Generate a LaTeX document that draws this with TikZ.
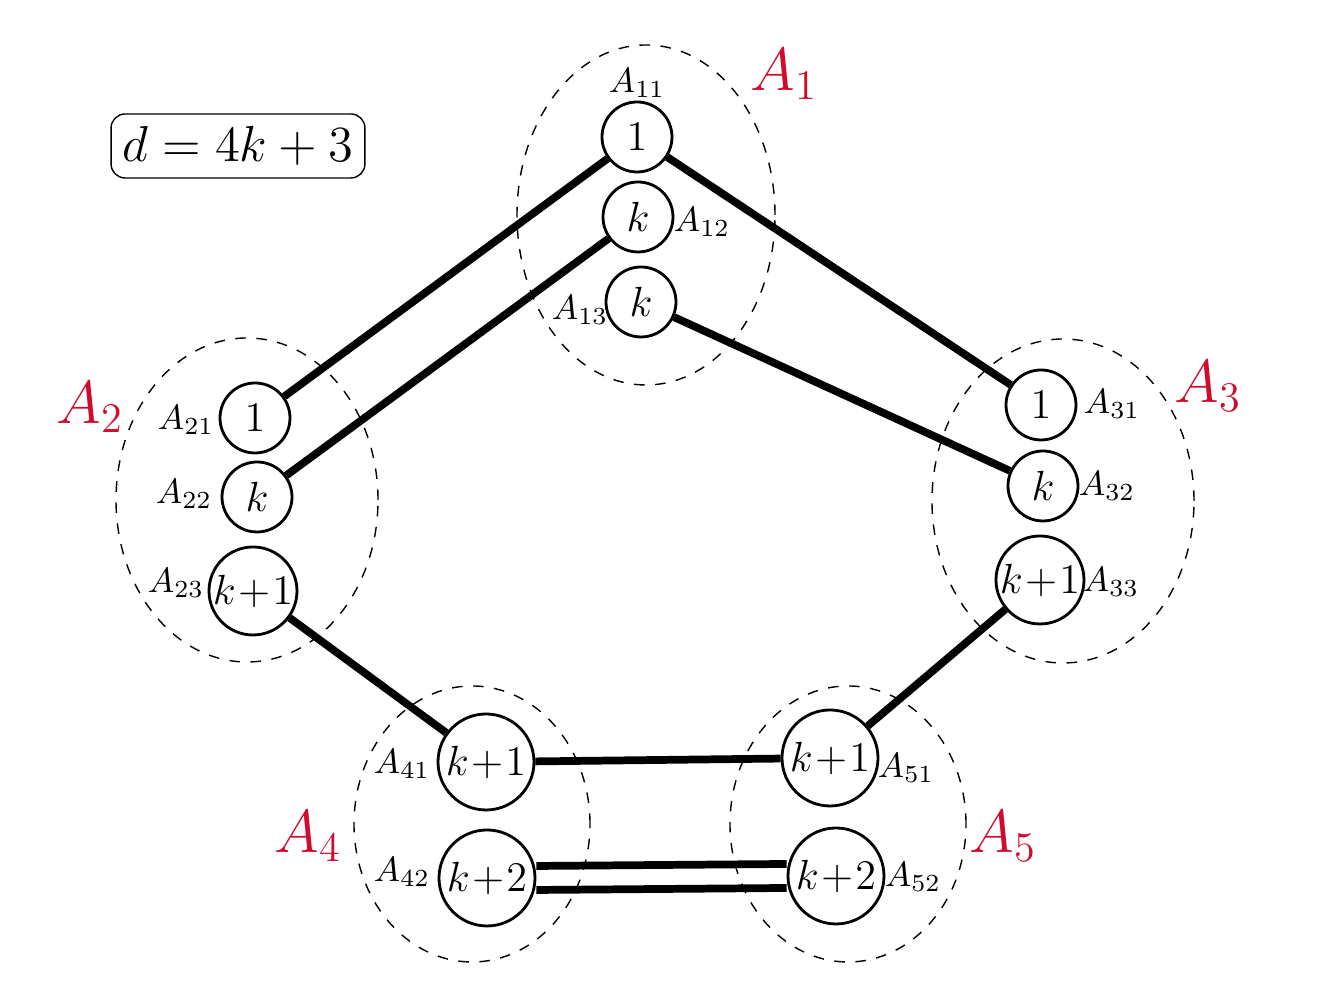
\documentclass[tikz,border=0pt]{standalone}
\usepackage{amsmath}
\usepackage{tikz}
\usetikzlibrary{shapes,calc}
\definecolor{grpred}{RGB}{210,10,45}
\tikzset{
  vert/.style={draw=black,shape=circle,thick,inner sep=0pt,font=\large,
    execute at begin node={\medmuskip=1mu}},
  grp/.style={draw=black,dashed,thin},
  lbl/.style={font=\normalsize},
  glbl/.style={text=grpred,font=\LARGE},
  edge/.style={line width=2.2pt}
}
\begin{document}
\begin{tikzpicture}[x=1cm,y=1cm]
\useasboundingbox (0,0) rectangle (13.24,9.94);
%groups
\draw[grp] (6.46,7.79) ellipse (1.29 and 1.70);
\draw[grp] (2.47,4.94) ellipse (1.31 and 1.62);
\draw[grp] (10.63,4.93) ellipse (1.31 and 1.62);
\draw[grp] (4.72,1.70) ellipse (1.18 and 1.38);
\draw[grp] (8.48,1.70) ellipse (1.18 and 1.38);
%vertices
\node[vert,minimum size=7mm] (a11) at (6.37,8.57){$1$};
\node[vert,minimum size=7mm] (a12) at (6.38,7.77){$k$};
\node[vert,minimum size=7mm] (a13) at (6.41,6.92){$k$};
\node[vert,minimum size=7mm] (a21) at (2.55,5.76){$1$};
\node[vert,minimum size=7mm] (a22) at (2.57,4.97){$k$};
\node[vert,minimum size=8.8mm] (a23) at (2.53,4.03){$k+1$};
\node[vert,minimum size=7mm] (a31) at (10.41,5.89){$1$};
\node[vert,minimum size=7mm] (a32) at (10.43,5.08){$k$};
\node[vert,minimum size=8.8mm] (a33) at (10.40,4.14){$k+1$};
\node[vert,minimum size=9.6mm] (a41) at (4.86,2.32){$k+1$};
\node[vert,minimum size=9.6mm] (a42) at (4.87,1.16){$k+2$};
\node[vert,minimum size=9.6mm] (a51) at (8.30,2.36){$k+1$};
\node[vert,minimum size=9.6mm] (a52) at (8.36,1.18){$k+2$};
%edges
\draw[edge] (a11)--(a21);
\draw[edge] (a12)--(a22);
\draw[edge] (a11)--(a31);
\draw[edge] (a13)--(a32);
\draw[edge] (a23)--(a41);
\draw[edge] (a33)--(a51);
\draw[edge] (a41)--(a51);
\draw[edge] ([yshift=1.2mm]a42.east)--([yshift=1.2mm]a52.west);
\draw[edge] ([yshift=-1.2mm]a42.east)--([yshift=-1.2mm]a52.west);
%labels
\node[lbl] (l11) at (6.37,9.11){$A_{11}$};
\node[lbl] (l12) at (7.02,7.72){$A_{12}$};
\node[lbl] (l13) at (5.80,6.84){$A_{13}$};
\node[lbl] (l21) at (1.86,5.74){$A_{21}$};
\node[lbl] (l22) at (1.84,5.00){$A_{22}$};
\node[lbl] (l23) at (1.76,4.11){$A_{23}$};
\node[lbl] (l31) at (11.12,5.90){$A_{31}$};
\node[lbl] (l32) at (11.07,5.08){$A_{32}$};
\node[lbl] (l33) at (11.11,4.12){$A_{33}$};
\node[lbl] (l41) at (4.02,2.30){$A_{41}$};
\node[lbl] (l42) at (4.02,1.22){$A_{42}$};
\node[lbl] (l51) at (9.06,2.26){$A_{51}$};
\node[lbl] (l52) at (9.13,1.17){$A_{52}$};
\node[glbl] (g1) at (7.84,9.20){$A_1$};
\node[glbl] (g2) at (0.90,5.87){$A_2$};
\node[glbl] (g3) at (12.08,6.08){$A_3$};
\node[glbl] (g4) at (3.08,1.58){$A_4$};
\node[glbl] (g5) at (10.03,1.58){$A_5$};
\node[draw=black,rounded corners=4pt,thin,font=\Large,minimum width=2.4cm,minimum height=6.4mm] (dbox) at (2.38,8.48){$d=4k+3$};
\end{tikzpicture}
\end{document}
